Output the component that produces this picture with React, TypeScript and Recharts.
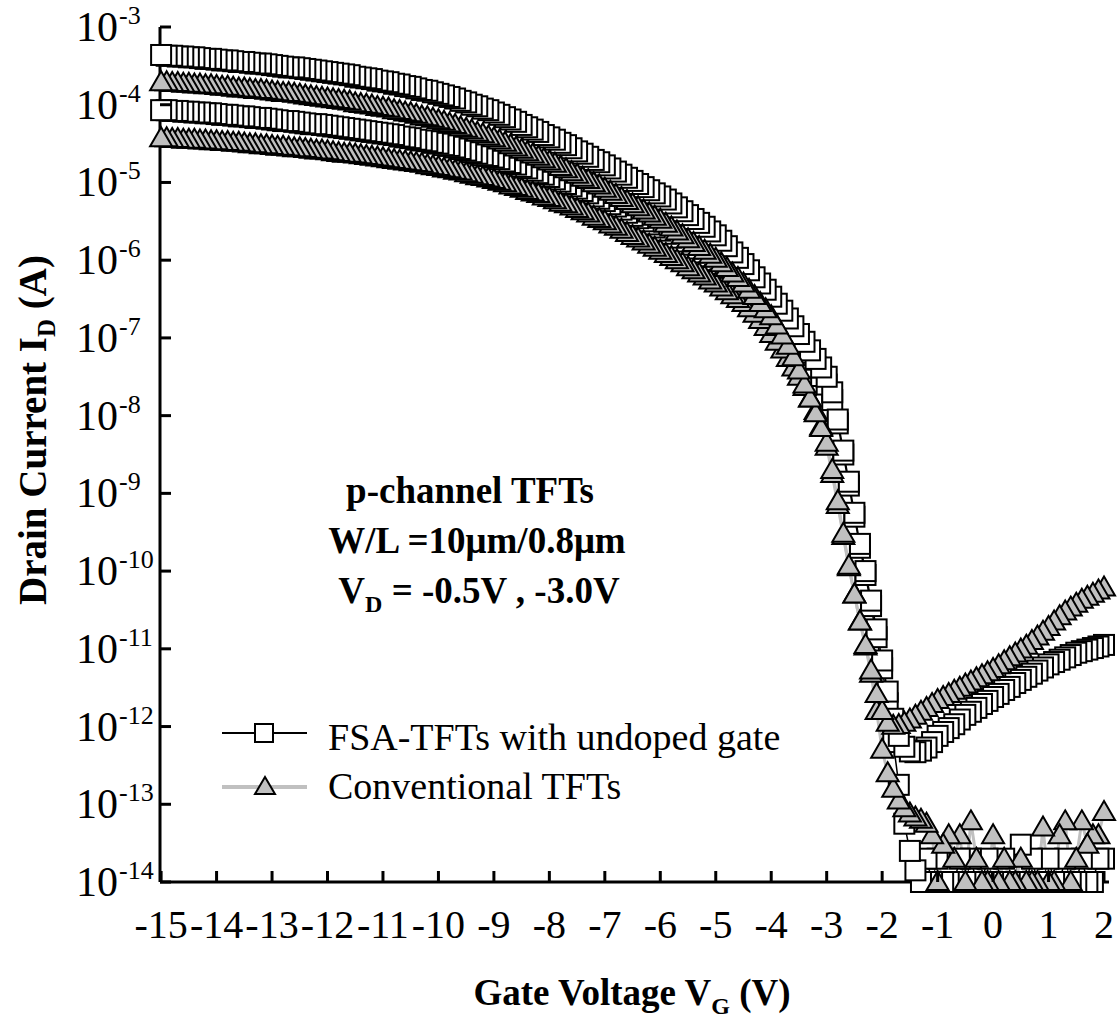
import React from "react";
import { LineChart, Line, XAxis, YAxis, Legend } from "recharts";

// gate voltage sweep, V
const vg = [
  -15, -14.9, -14.8, -14.7, -14.6, -14.5, -14.4, -14.3, -14.2, -14.1,
  -14, -13.9, -13.8, -13.7, -13.6, -13.5, -13.4, -13.3, -13.2, -13.1,
  -13, -12.9, -12.8, -12.7, -12.6, -12.5, -12.4, -12.3, -12.2, -12.1,
  -12, -11.9, -11.8, -11.7, -11.6, -11.5, -11.4, -11.3, -11.2, -11.1,
  -11, -10.9, -10.8, -10.7, -10.6, -10.5, -10.4, -10.3, -10.2, -10.1,
  -10, -9.9, -9.8, -9.7, -9.6, -9.5, -9.4, -9.3, -9.2, -9.1,
  -9, -8.9, -8.8, -8.7, -8.6, -8.5, -8.4, -8.3, -8.2, -8.1,
  -8, -7.9, -7.8, -7.7, -7.6, -7.5, -7.4, -7.3, -7.2, -7.1,
  -7, -6.9, -6.8, -6.7, -6.6, -6.5, -6.4, -6.3, -6.2, -6.1,
  -6, -5.9, -5.8, -5.7, -5.6, -5.5, -5.4, -5.3, -5.2, -5.1,
  -5, -4.9, -4.8, -4.7, -4.6, -4.5, -4.4, -4.3, -4.2, -4.1,
  -4, -3.9, -3.8, -3.7, -3.6, -3.5, -3.4, -3.3, -3.2, -3.1,
  -3, -2.9, -2.8, -2.7, -2.6, -2.5, -2.4, -2.3, -2.2, -2.1,
  -2, -1.9, -1.8, -1.7, -1.6, -1.5, -1.4, -1.3, -1.2, -1.1,
  -1, -0.9, -0.8, -0.7, -0.6, -0.5, -0.4, -0.3, -0.2, -0.1,
  0, 0.1, 0.2, 0.3, 0.4, 0.5, 0.6, 0.7, 0.8, 0.9,
  1, 1.1, 1.2, 1.3, 1.4, 1.5, 1.6, 1.7, 1.8, 1.9, 2,
];

// log10(I_D / A), FSA-TFTs with undoped gate, V_D = -3.0 V
const fsaHigh = [
  -3.36, -3.37, -3.37, -3.38, -3.38, -3.39, -3.39, -3.4, -3.41, -3.41,
  -3.42, -3.43, -3.43, -3.44, -3.45, -3.45, -3.46, -3.47, -3.47, -3.48,
  -3.49, -3.5, -3.51, -3.52, -3.52, -3.53, -3.54, -3.55, -3.56, -3.57,
  -3.58, -3.59, -3.6, -3.61, -3.62, -3.64, -3.65, -3.66, -3.67, -3.69,
  -3.7, -3.71, -3.73, -3.74, -3.76, -3.77, -3.79, -3.81, -3.82, -3.84,
  -3.86, -3.88, -3.9, -3.92, -3.95, -3.97, -4.0, -4.02, -4.05, -4.07,
  -4.1, -4.13, -4.16, -4.19, -4.22, -4.26, -4.29, -4.32, -4.35, -4.39,
  -4.42, -4.45, -4.49, -4.52, -4.56, -4.6, -4.63, -4.67, -4.71, -4.74,
  -4.78, -4.82, -4.86, -4.9, -4.94, -4.98, -5.02, -5.06, -5.1, -5.14,
  -5.18, -5.22, -5.27, -5.32, -5.37, -5.42, -5.47, -5.52, -5.57, -5.63,
  -5.68, -5.75, -5.82, -5.9, -5.97, -6.05, -6.13, -6.22, -6.3, -6.38,
  -6.47, -6.56, -6.65, -6.75, -6.85, -6.95, -7.05, -7.16, -7.27, -7.38,
  -7.5, -7.7, -8.05, -8.45, -8.85, -9.25, -9.65, -10.0, -10.38, -10.75,
  -11.15, -11.55, -11.9, -12.12, -12.26, -12.32, -12.33, -12.31, -12.27, -12.2,
  -12.12, -12.07, -12.02, -11.97, -11.91, -11.85, -11.81, -11.76, -11.71, -11.67,
  -11.62, -11.58, -11.53, -11.49, -11.44, -11.4, -11.36, -11.32, -11.28, -11.24,
  -11.2, -11.17, -11.14, -11.11, -11.08, -11.05, -11.03, -11.01, -10.99, -10.97, -10.95,
];

// FSA-TFTs with undoped gate, V_D = -0.5 V
const fsaLow = [
  -4.07, -4.07, -4.08, -4.08, -4.09, -4.09, -4.1, -4.1, -4.11, -4.11,
  -4.12, -4.13, -4.13, -4.14, -4.15, -4.15, -4.16, -4.17, -4.17, -4.18,
  -4.19, -4.2, -4.21, -4.21, -4.22, -4.23, -4.24, -4.25, -4.25, -4.26,
  -4.27, -4.28, -4.29, -4.3, -4.31, -4.32, -4.33, -4.34, -4.35, -4.36,
  -4.37, -4.38, -4.39, -4.41, -4.42, -4.43, -4.45, -4.46, -4.47, -4.49,
  -4.5, -4.52, -4.53, -4.55, -4.57, -4.59, -4.61, -4.63, -4.65, -4.66,
  -4.68, -4.7, -4.73, -4.75, -4.77, -4.8, -4.82, -4.85, -4.88, -4.9,
  -4.93, -4.96, -4.99, -5.02, -5.05, -5.08, -5.11, -5.14, -5.18, -5.21,
  -5.24, -5.28, -5.31, -5.35, -5.39, -5.43, -5.46, -5.5, -5.54, -5.58,
  -5.62, -5.66, -5.71, -5.76, -5.8, -5.85, -5.9, -5.95, -6.0, -6.05,
  -6.1, -6.15, -6.21, -6.26, -6.32, -6.38, -6.44, -6.51, -6.58, -6.65,
  -6.72, -6.79, -6.86, -6.94, -7.02, -7.1, -7.19, -7.28, -7.38, -7.49,
  -7.6, -7.8, -8.1, -8.5, -8.9, -9.3, -9.7, -10.05, -10.45, -10.85,
  -11.25, -11.7, -12.2, -12.75, -13.25, -13.6, -13.85, -14.0, -13.7, -14.0,
  -13.7, -14.0, -14.0, -14.0, -13.7, -14.0, -13.7, -14.0, -14.0, -13.7,
  -14.0, -14.0, -13.7, -14.0, -14.0, -13.52, -14.0, -13.7, -14.0, -14.0,
  -13.7, -14.0, -14.0, -13.7, -14.0, -14.0, -13.7, -14.0, -14.0, -13.7, -13.7,
];

// Conventional TFTs, V_D = -3.0 V
const convHigh = [
  -3.71, -3.71, -3.72, -3.72, -3.73, -3.73, -3.74, -3.74, -3.75, -3.75,
  -3.76, -3.77, -3.77, -3.78, -3.79, -3.79, -3.8, -3.81, -3.81, -3.82,
  -3.83, -3.84, -3.85, -3.85, -3.86, -3.87, -3.88, -3.89, -3.9, -3.91,
  -3.92, -3.93, -3.94, -3.95, -3.96, -3.98, -3.99, -4.0, -4.01, -4.03,
  -4.04, -4.05, -4.07, -4.08, -4.1, -4.11, -4.13, -4.15, -4.16, -4.18,
  -4.2, -4.22, -4.24, -4.26, -4.29, -4.31, -4.33, -4.36, -4.38, -4.41,
  -4.43, -4.46, -4.49, -4.52, -4.55, -4.58, -4.61, -4.64, -4.67, -4.7,
  -4.73, -4.76, -4.8, -4.83, -4.87, -4.9, -4.94, -4.97, -5.01, -5.04,
  -5.08, -5.12, -5.16, -5.2, -5.24, -5.28, -5.32, -5.36, -5.4, -5.44,
  -5.48, -5.53, -5.58, -5.63, -5.68, -5.73, -5.78, -5.83, -5.88, -5.93,
  -5.98, -6.04, -6.1, -6.17, -6.23, -6.3, -6.38, -6.46, -6.55, -6.63,
  -6.72, -6.84, -6.97, -7.1, -7.25, -7.42, -7.6, -7.78, -7.97, -8.16,
  -8.35, -8.7, -9.1, -9.52, -9.93, -10.3, -10.65, -10.95, -11.28, -11.58,
  -11.8, -11.95, -11.99, -11.98, -11.95, -11.91, -11.86, -11.81, -11.76, -11.71,
  -11.66, -11.62, -11.58, -11.54, -11.5, -11.46, -11.42, -11.38, -11.34, -11.3,
  -11.26, -11.21, -11.16, -11.11, -11.06, -11.01, -10.96, -10.9, -10.84, -10.78,
  -10.72, -10.65, -10.58, -10.52, -10.47, -10.42, -10.37, -10.33, -10.29, -10.25, -10.21,
];

// Conventional TFTs, V_D = -0.5 V
const convLow = [
  -4.43, -4.43, -4.44, -4.44, -4.45, -4.45, -4.45, -4.46, -4.46, -4.47,
  -4.47, -4.48, -4.48, -4.49, -4.49, -4.5, -4.51, -4.51, -4.52, -4.52,
  -4.53, -4.54, -4.54, -4.55, -4.56, -4.56, -4.57, -4.58, -4.59, -4.59,
  -4.6, -4.61, -4.62, -4.63, -4.63, -4.64, -4.65, -4.66, -4.67, -4.68,
  -4.69, -4.7, -4.71, -4.72, -4.73, -4.74, -4.75, -4.76, -4.78, -4.79,
  -4.8, -4.82, -4.83, -4.85, -4.86, -4.88, -4.9, -4.92, -4.93, -4.95,
  -4.97, -4.99, -5.01, -5.04, -5.06, -5.08, -5.11, -5.13, -5.15, -5.18,
  -5.2, -5.23, -5.26, -5.28, -5.31, -5.34, -5.37, -5.4, -5.44, -5.47,
  -5.5, -5.54, -5.57, -5.61, -5.65, -5.69, -5.72, -5.76, -5.8, -5.84,
  -5.88, -5.92, -5.96, -6.0, -6.04, -6.09, -6.13, -6.17, -6.21, -6.26,
  -6.3, -6.35, -6.4, -6.45, -6.5, -6.55, -6.62, -6.69, -6.77, -6.86,
  -6.95, -7.05, -7.15, -7.26, -7.38, -7.5, -7.63, -7.78, -7.94, -8.14,
  -8.4, -8.75, -9.15, -9.55, -9.95, -10.3, -10.65, -10.97, -11.32, -11.8,
  -12.3, -12.6, -12.8, -12.95, -13.05, -13.12, -13.17, -13.2, -13.25, -13.4,
  -14.0, -13.52, -13.4, -13.7, -13.4, -14.0, -13.22, -13.7, -14.0, -14.0,
  -13.4, -14.0, -13.7, -14.0, -14.0, -13.7, -14.0, -14.0, -14.0, -13.3,
  -14.0, -14.0, -13.4, -13.22, -14.0, -13.7, -13.22, -13.52, -13.4, -13.4, -13.1,
];

const xTicks = [-15, -14, -13, -12, -11, -10, -9, -8, -7, -6, -5, -4, -3, -2, -1, 0, 1, 2];
const yTicks = [1e-14, 1e-13, 1e-12, 1e-11, 1e-10, 1e-9, 1e-8, 1e-7, 1e-6, 1e-5, 1e-4, 1e-3];

const legendItems = ["FSA-TFTs with undoped gate", "Conventional TFTs"];

const FONT = "'Liberation Serif', 'Times New Roman', serif";
const GREY = "#c0c0c0";

// sweep was recorded from +2 V down to -15 V, so the leftmost marker sits on top
const rows = vg
  .map((v, i) => ({
    vg: v,
    fsaHigh: Math.pow(10, fsaHigh[i]),
    fsaLow: Math.pow(10, fsaLow[i]),
    convHigh: Math.pow(10, convHigh[i]),
    convLow: Math.pow(10, convLow[i]),
  }))
  .reverse();

const squareDot = (p: any) => {
  if (p.cx == null || p.cy == null) return <g key={`s${p.index}`} />;
  return (
    <rect key={`s${p.index}`} x={p.cx - 10} y={p.cy - 10} width={20} height={20}
      fill="#fff" stroke="#000" strokeWidth={2} />
  );
};

const triDot = (p: any) => {
  if (p.cx == null || p.cy == null) return <g key={`t${p.index}`} />;
  const { cx, cy } = p;
  return (
    <polygon key={`t${p.index}`} points={`${cx},${cy - 11} ${cx + 11},${cy + 8} ${cx - 11},${cy + 8}`}
      fill={GREY} stroke="#000" strokeWidth={2} />
  );
};

const XTick = ({ x, y, payload }: any) => (
  <g>
    <line x1={x} y1={y} x2={x} y2={y - 11} stroke="#000" strokeWidth={3} />
    <text x={x} y={y + 56} textAnchor="middle" fontFamily={FONT} fontSize={40} fill="#000">
      {payload.value}
    </text>
  </g>
);

const YTick = ({ x, y, payload }: any) => {
  const exp = Math.round(Math.log10(payload.value));
  return (
    <g>
      <line x1={x} y1={y} x2={x + 11} y2={y} stroke="#000" strokeWidth={3} />
      <text x={x - 42} y={y + 14} textAnchor="end" fontFamily={FONT} fontSize={42} fill="#000">10</text>
      <text x={x - 41} y={y - 3} textAnchor="start" fontFamily={FONT} fontSize={26} fill="#000">{exp}</text>
    </g>
  );
};

const LegendBox = () => (
  <svg width={600} height={110} style={{ display: "block" }}>
    <line x1={8} y1={28} x2={93} y2={28} stroke="#000" strokeWidth={2} />
    <rect x={41} y={19} width={18} height={18} fill="#fff" stroke="#000" strokeWidth={2} />
    <text x={114} y={45} fontFamily={FONT} fontSize={38} fill="#000">{legendItems[0]}</text>
    <line x1={8} y1={82} x2={93} y2={82} stroke={GREY} strokeWidth={4} />
    <polygon points="51,72 61,89 41,89" fill={GREY} stroke="#000" strokeWidth={2} />
    <text x={114} y={94} fontFamily={FONT} fontSize={38} fill="#000">{legendItems[1]}</text>
  </svg>
);

export default function App() {
  return (
    <div style={{ position: "absolute", left: 0, top: 0, width: 1120, height: 1029, background: "#fff" }}>
      <LineChart width={1120} height={1029} data={rows} margin={{ top: 27, right: 11, bottom: 87, left: 10 }}>
        <XAxis dataKey="vg" type="number" domain={[-15.02, 2.09]} ticks={xTicks} interval={0}
          height={60} tickSize={0} tickMargin={0} tickLine={false}
          axisLine={{ stroke: "#000", strokeWidth: 3 }} tick={(p: any) => <XTick {...p} />} />
        <XAxis xAxisId="top" orientation="top" type="number" domain={[-15.02, 2.09]} height={0}
          tick={false} tickLine={false} axisLine={{ stroke: "#000", strokeWidth: 3 }} />
        <YAxis scale="log" type="number" domain={[1e-14, 1e-3]} ticks={yTicks} interval={0}
          width={150} tickSize={0} tickMargin={0} tickLine={false}
          axisLine={{ stroke: "#000", strokeWidth: 3 }} tick={(p: any) => <YTick {...p} />} />
        <YAxis yAxisId="right" orientation="right" type="number" domain={[0, 1]} width={0}
          tick={false} tickLine={false} axisLine={{ stroke: "#000", strokeWidth: 3 }} />
        <Legend layout="horizontal" verticalAlign="middle" align="center"
          wrapperStyle={{ position: "absolute", left: 214, top: 705, width: 600, height: 110 }}
          content={() => <LegendBox />} />
        <Line dataKey="fsaLow" stroke="#000" strokeWidth={1.5} dot={squareDot} activeDot={false} isAnimationActive={false} />
        <Line dataKey="fsaHigh" stroke="#000" strokeWidth={1.5} dot={squareDot} activeDot={false} isAnimationActive={false} />
        <Line dataKey="convLow" stroke={GREY} strokeWidth={3} dot={triDot} activeDot={false} isAnimationActive={false} />
        <Line dataKey="convHigh" stroke={GREY} strokeWidth={3} dot={triDot} activeDot={false} isAnimationActive={false} />
      </LineChart>
      <svg width={1120} height={1029} style={{ position: "absolute", left: 0, top: 0, pointerEvents: "none" }}>
        <g fontFamily={FONT} fontWeight="bold" fontSize={37} fill="#000">
          <text x={470} y={503} textAnchor="middle">p-channel TFTs</text>
          <text x={477} y={553} textAnchor="middle">W/L =10μm/0.8μm</text>
          <text x={479} y={603} textAnchor="middle">
            V<tspan fontSize={24} dy={9}>D</tspan><tspan dy={-9}> = -0.5V , -3.0V</tspan>
          </text>
          <text x={632} y={1005} textAnchor="middle">
            Gate Voltage V<tspan fontSize={24} dy={9}>G</tspan><tspan dy={-9}> (V)</tspan>
          </text>
          <text transform="translate(46,430) rotate(-90)" textAnchor="middle" fontSize={39}>
            Drain Current I<tspan fontSize={25} dy={9}>D</tspan><tspan dy={-9}> (A)</tspan>
          </text>
        </g>
      </svg>
    </div>
  );
}
